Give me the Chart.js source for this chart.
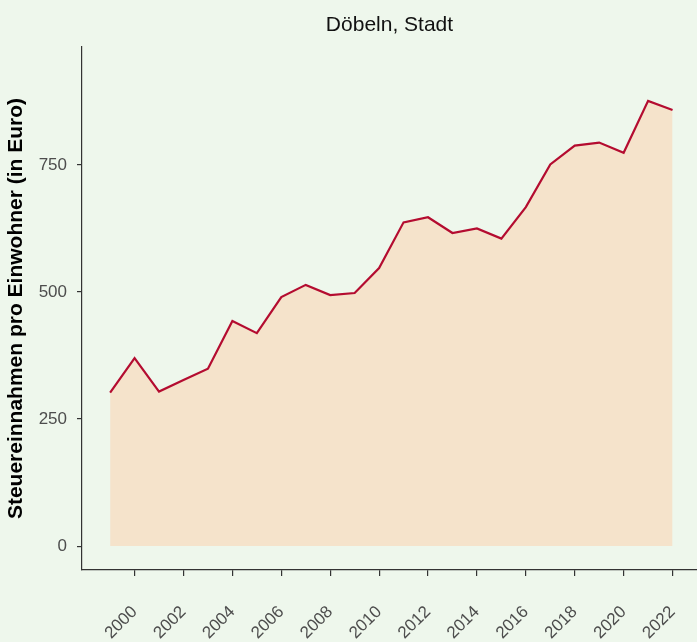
<!DOCTYPE html>
<html>
<head>
<meta charset="utf-8">
<script src="https://cdn.jsdelivr.net/npm/chart.js@4/dist/chart.umd.min.js"></script>
<style>
  body { margin: 0; background: #EEF7EC; }
  canvas { display: block; }
</style>
</head>
<body>
<canvas id="chart" width="697" height="642"></canvas>
<script>
const years = [1999, 2000, 2001, 2002, 2003, 2004, 2005, 2006, 2007, 2008, 2009, 2010,
               2011, 2012, 2013, 2014, 2015, 2016, 2017, 2018, 2019, 2020, 2021, 2022];
const values = [302, 370, 304, 327, 349, 443, 419, 490, 514, 494, 498, 547,
                637, 647, 616, 625, 605, 667, 751, 788, 794, 774, 876, 858];
const yearTicks = [2000, 2002, 2004, 2006, 2008, 2010, 2012, 2014, 2016, 2018, 2020, 2022];
const valueTicks = [0, 250, 500, 750];
const chartTitle = 'Döbeln, Stadt';
const yTitle = 'Steuereinnahmen pro Einwohner (in Euro)';

const bg = '#EEF7EC';
const axisColor = '#333333';
const fontFamily = '"Liberation Sans", Arial, sans-serif';

// background + title centred over the plot panel
const panelDecor = {
  id: 'panelDecor',
  beforeDraw(chart) {
    const ctx = chart.ctx;
    ctx.save();
    ctx.fillStyle = bg;
    ctx.fillRect(0, 0, chart.width, chart.height);
    ctx.restore();
  },
  afterDraw(chart) {
    const ctx = chart.ctx;
    const area = chart.chartArea;
    ctx.save();
    ctx.font = '21px ' + fontFamily;
    ctx.fillStyle = '#111111';
    ctx.textAlign = 'center';
    ctx.textBaseline = 'alphabetic';
    ctx.fillText(chartTitle, (area.left + area.right) / 2, 31);
    ctx.restore();
  }
};

const ctx = document.getElementById('chart').getContext('2d');
new Chart(ctx, {
  type: 'line',
  data: {
    datasets: [{
      data: years.map((y, i) => ({ x: y, y: values[i] })),
      borderColor: '#B40C30',
      borderWidth: 2.2,
      backgroundColor: '#F5E3CB',
      fill: 'origin',
      pointRadius: 0,
      tension: 0
    }]
  },
  options: {
    responsive: false,
    animation: false,
    layout: { padding: { top: 47, right: 0, bottom: 0, left: 0 } },
    plugins: {
      legend: { display: false },
      tooltip: { enabled: false },
      title: { display: false }
    },
    scales: {
      x: {
        type: 'linear',
        min: 1997.85,
        max: 2023,
        afterBuildTicks: (scale) => { scale.ticks = yearTicks.map(v => ({ value: v })); },
        afterFit: (scale) => {
          scale.height = 72;
          scale.paddingLeft = 0;
          scale.paddingRight = 0;
        },
        border: { display: true, color: axisColor, width: 1.2 },
        grid: { display: true, drawOnChartArea: false, drawTicks: true, tickLength: 6, color: axisColor, lineWidth: 1.2 },
        ticks: {
          autoSkip: false,
          minRotation: 45,
          maxRotation: 45,
          padding: 26,
          color: '#4D4D4D',
          font: { family: fontFamily, size: 17 },
          callback: (v) => String(v)
        }
      },
      y: {
        min: -47,
        max: 982,
        afterBuildTicks: (scale) => { scale.ticks = valueTicks.map(v => ({ value: v })); },
        afterFit: (scale) => {
          scale.width = 82;
          scale.paddingTop = 0;
          scale.paddingBottom = 0;
        },
        border: { display: true, color: axisColor, width: 1.2 },
        grid: { display: true, drawOnChartArea: false, drawTicks: true, tickLength: 5, color: axisColor, lineWidth: 1.2 },
        ticks: {
          padding: 10,
          color: '#4D4D4D',
          font: { family: fontFamily, size: 17 }
        },
        title: {
          display: true,
          text: yTitle,
          color: '#000000',
          padding: { top: 4, bottom: 0 },
          font: { family: fontFamily, size: 21, weight: 'bold' }
        }
      }
    }
  },
  plugins: [panelDecor]
});
</script>
</body>
</html>
